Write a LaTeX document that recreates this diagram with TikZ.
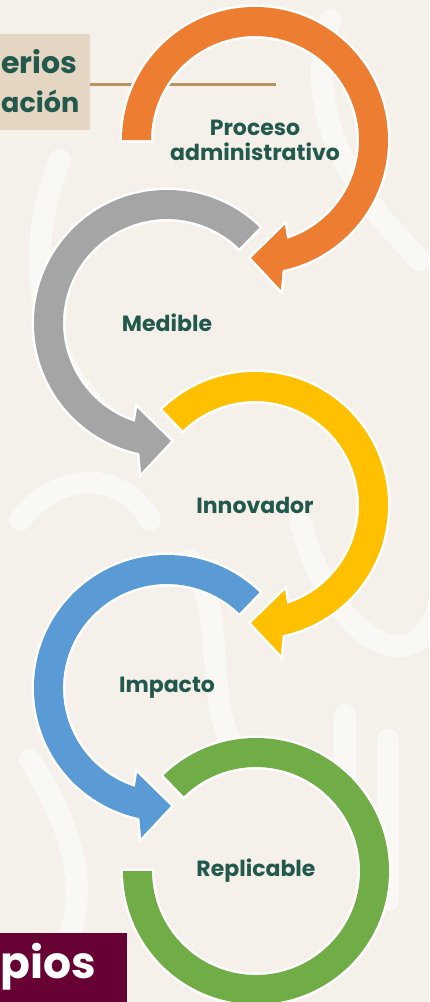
\documentclass[tikz,border=0pt]{standalone}
\usepackage{fontspec}
\setmainfont{Poppins}
\definecolor{bgc}{HTML}{F5F1EA}
\definecolor{cOrange}{HTML}{ED7D31}
\definecolor{cGray}{HTML}{A5A5A5}
\definecolor{cYellow}{HTML}{FFC000}
\definecolor{cBlue}{HTML}{5B9BD5}
\definecolor{cGreen}{HTML}{70AD47}
\definecolor{txtGreen}{HTML}{22594C}
\definecolor{beige}{HTML}{E4D6C2}
\definecolor{gold}{HTML}{B8935F}
\definecolor{maroon}{HTML}{670033}
\tikzset{
  ring/.style={preaction={draw=white,line width=5pt,line join=miter}},
  lbl/.style={text=txtGreen,font=\bfseries\fontsize{22}{25}\selectfont,align=center,inner sep=0pt},
  swirl/.style={draw=white,line width=22pt,line cap=round,opacity=0.5}
}
\begin{document}
\begin{tikzpicture}[x=1pt,y=1pt]
\useasboundingbox (0,0) rectangle (429,-1002);
\fill[bgc] (0,0) rectangle (429,-1002);
% faint background swirls
\begin{scope}
\clip (0,0) rectangle (429,-1002);
\draw[swirl] (330,-20) .. controls (300,-120) and (360,-200) .. (420,-260);
\draw[swirl] (60,-160) .. controls (20,-260) and (40,-360) .. (110,-420);
\draw[swirl] (300,-520) .. controls (330,-640) and (420,-690) .. (440,-600);
\draw[swirl] (345,-715) -- (345,-790);
\draw[swirl] (388,-740) -- (388,-900);
\draw[swirl] (20,-520) .. controls (60,-470) and (120,-470) .. (150,-520);
\draw[swirl] (30,-760) .. controls (80,-840) and (90,-900) .. (60,-960);
\draw[swirl] (190,-560) .. controls (230,-620) and (200,-700) .. (240,-760);
\end{scope}
% title box
\fill[beige] (0,-34) rectangle (90,-130);
\draw[gold,line width=3pt] (90,-84) -- (276,-84);
\node[anchor=base west,inner sep=0pt,text=txtGreen,font=\bfseries\fontsize{30}{33}\selectfont] (t1) at (1,-73) {erios};
\node[anchor=base west,inner sep=0pt,text=txtGreen,font=\bfseries\fontsize{27}{31}\selectfont] (t2) at (1,-112) {ación};
% orange
\begin{scope}[shift={(255,-140)}]
\fill[cOrange,ring] (180:133) arc[start angle=180,end angle=-78,radius=133] -- (-80.2:152) -- (-91.9:118) -- (-70.6:90) -- (-72:104) arc[start angle=-72,end angle=180,radius=104] -- cycle;
\node[lbl] (l1) at (0,0) {Proceso\\administrativo};
\end{scope}
% gray
\begin{scope}[shift={(167,-323)}]
\fill[cGray,ring] (46:133) arc[start angle=46,end angle=258,radius=133] -- (260.2:152) -- (271.9:118) -- (250.6:90) -- (252:104) arc[start angle=252,end angle=46,radius=104] -- cycle;
\node[lbl] (l2) at (0,0) {Medible};
\end{scope}
% yellow
\begin{scope}[shift={(255,-505)}]
\fill[cYellow,ring] (134:133) arc[start angle=134,end angle=-78,radius=133] -- (-80.2:152) -- (-91.9:118) -- (-70.6:90) -- (-72:104) arc[start angle=-72,end angle=134,radius=104] -- cycle;
\node[lbl] (l3) at (0,0) {Innovador};
\end{scope}
% blue
\begin{scope}[shift={(167,-688)}]
\fill[cBlue,ring] (46:133) arc[start angle=46,end angle=258,radius=133] -- (260.2:152) -- (271.9:118) -- (250.6:90) -- (252:104) arc[start angle=252,end angle=46,radius=104] -- cycle;
\node[lbl] (l4) at (0,0) {Impacto};
\end{scope}
% green
\begin{scope}[shift={(256,-871)}]
\fill[cGreen,ring] (134:133) arc[start angle=134,end angle=-180,radius=133] -- (180:104) arc[start angle=-180,end angle=134,radius=104] -- cycle;
\node[lbl] (l5) at (0,0) {Replicable};
\end{scope}
% bottom box
\fill[maroon] (0,-933) rectangle (127,-1002);
\node[anchor=base west,inner sep=0pt,text=white,font=\bfseries\fontsize{44}{46}\selectfont] (t3) at (0.5,-978) {pios};
\end{tikzpicture}
\end{document}
